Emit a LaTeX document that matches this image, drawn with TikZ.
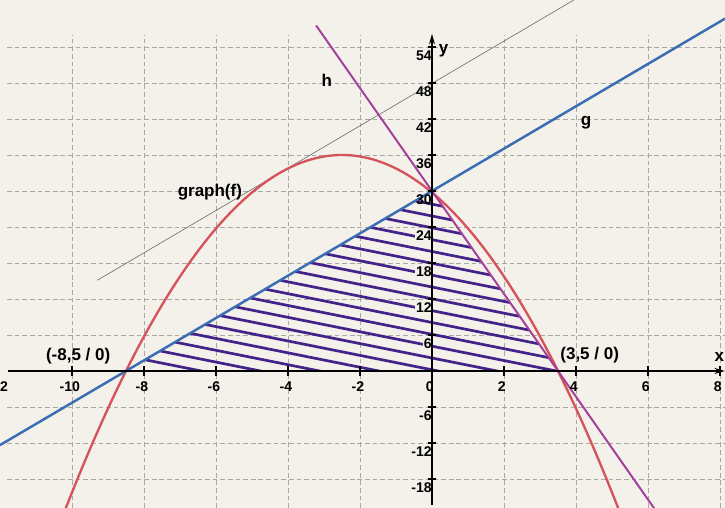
\documentclass[tikz,border=0pt]{standalone}
\usepackage{fontspec}
\setmainfont{Liberation Sans}
\usetikzlibrary{arrows.meta}
\definecolor{paper}{HTML}{F3F1EA}
\definecolor{fred}{HTML}{D5545C}
\definecolor{gblue}{HTML}{3A6DB3}
\definecolor{hmag}{HTML}{A5409B}
\definecolor{hatchc}{HTML}{43238A}
\definecolor{gridc}{HTML}{A8A8A4}
\tikzset{
  gridline/.style={gridc, line width=0.6pt, dash pattern=on 4pt off 2.5pt},
  tangentline/.style={gray!80!black, line width=0.5pt},
  hatchline/.style={hatchc, line width=2.3pt},
  fcurve/.style={fred, line width=2pt},
  gline/.style={gblue, line width=2.1pt},
  hline/.style={hmag, line width=1.7pt},
  axisline/.style={black, line width=1.5pt, -{Stealth[length=9pt,width=5pt]}},
  tickline/.style={black, line width=1.1pt},
  ticklab/.style={font=\bfseries\fontsize{12}{14}\selectfont, inner sep=1pt},
  annot/.style={font=\bfseries\fontsize{14.5}{17}\selectfont, inner sep=1pt}
}
\begin{document}
\begin{tikzpicture}[x=1.08cm,y=0.18cm]
\useasboundingbox[fill=paper] (-12,-22.833) rectangle (8.139,61.833);
\begin{scope}
\clip (-12,-22.833) rectangle (8.139,61.833);
% grid
\foreach \gx in {-10,-8,-6,-4,-2,2,4,6,8}
  \draw[gridline] (\gx,-22.833) -- (\gx,56);
\foreach \gy in {-18,-12,-6,6,12,18,24,30,36,42,48,54}
  \draw[gridline] (-11.8,\gy) -- (8.139,\gy);
% tangent parallel to g
\coordinate (t1) at (-9.3,15.11);
\coordinate (t2) at (4.03,62.15);
\draw[tangentline] (t1) -- (t2);
% hatching
\begin{scope}
\clip (-8.5,0) -- (0,30) -- (3.5,0) -- cycle;
\foreach \k in {0,...,18}{
  \pgfmathsetmacro\xs{-7.97+0.417*\k}
  \pgfmathsetmacro\ys{60/17*\xs+30}
  \draw[hatchline] (\xs-1,\ys+1.2) -- (\xs+13,\ys-15.6);
}
\end{scope}
% curves
\draw[fcurve, domain=-10.4:5.4, samples=120] plot (\x, {-\x*\x-5*\x+29.75});
\coordinate (g1) at (-12,-12.353);
\coordinate (g2) at (8.139,58.726);
\draw[gline] (g1) -- (g2);
\coordinate (h1) at (-3.22,57.6);
\coordinate (h2) at (6.3,-24);
\draw[hline] (h1) -- (h2);
% y tick labels (those inside hatching knock out lines)
\foreach \ty in {54,48,42,36,30,-6,-12,-18}
  \node[ticklab, anchor=east] (yl\ty) at (0.03,\ty-1.5) {\ty};
\foreach \ty in {24,18,12,6}
  \node[ticklab, anchor=east, fill=paper] (yl\ty) at (0.03,\ty-1.5) {\ty};
% x tick labels
\foreach \tx in {-12,-10,-8,-6,-4,-2,0,2,4,6,8}
  \node[ticklab] (xl\tx) at (\tx-0.06,-2.6) {\tx};
% axes
\coordinate (xa1) at (-11.78,0);
\coordinate (xa2) at (8.139,0);
\coordinate (ya1) at (0,-22.3);
\coordinate (ya2) at (0,56.2);
\draw[axisline] (xa1) -- (xa2);
\draw[axisline] (ya1) -- (ya2);
\foreach \tx in {-10,-8,-6,-4,-2,2,4,6,8}
  \draw[tickline] (\tx,-0.8) -- (\tx,0.8);
\foreach \ty in {-18,-12,-6,6,12,18,24,30,36,42,48,54}
  \draw[tickline] (-0.12,\ty) -- (0.12,\ty);
% annotations
\node[annot] (lx) at (7.98,2.4) {x};
\node[annot] (ly) at (0.32,53.3) {y};
\node[annot] (lA) at (-9.83,2.4) {(-8,5 / 0)};
\node[annot] (lB) at (4.38,2.6) {(3,5 / 0)};
\node[annot] (lf) at (-6.17,29.8) {graph(f)};
\node[annot] (lg) at (4.28,41.3) {g};
\node[annot] (lh) at (-2.92,48.5) {h};
\end{scope}
\end{tikzpicture}
\end{document}
